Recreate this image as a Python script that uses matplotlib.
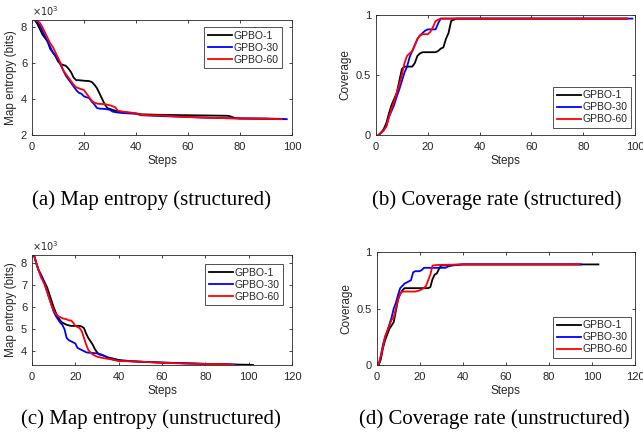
import matplotlib
matplotlib.use("Agg")
import matplotlib.pyplot as plt

# ---------------- data ----------------
series_names = ["GPBO-1", "GPBO-30", "GPBO-60"]
series_colors = ["#000000", "#0000ff", "#ff0000"]

# (a) Map entropy (structured), values in 10^3 bits
a_x1 = [1, 2, 3, 4, 5, 6, 7, 8, 9, 10, 11, 12, 13, 14, 15, 16, 17, 18, 20, 22, 23, 24, 25, 26, 27, 28, 29, 30, 31, 32, 34, 36, 40, 42, 50, 60, 70, 75, 76, 78, 80, 90, 97]
a_y1 = [8.4, 8.2, 7.9, 7.6, 7.4, 7.2, 6.8, 6.6, 6.4, 6.1, 5.95, 5.9, 5.85, 5.7, 5.5, 5.2, 5.05, 5.05, 5.02, 5.0, 4.95, 4.8, 4.6, 4.3, 4.0, 3.7, 3.5, 3.45, 3.4, 3.35, 3.3, 3.25, 3.2, 3.15, 3.12, 3.1, 3.08, 3.07, 3.05, 2.95, 2.92, 2.9, 2.88]
a_x30 = [1, 2, 3, 4, 5, 6, 7, 8, 9, 10, 11, 12, 13, 14, 15, 16, 17, 18, 19, 20, 21, 22, 23, 24, 25, 26, 28, 30, 31, 33, 35, 40, 42, 50, 60, 70, 80, 90, 95, 98]
a_y30 = [8.4, 8.3, 8.1, 7.8, 7.5, 7.2, 6.9, 6.6, 6.4, 6.2, 5.9, 5.6, 5.3, 5.1, 4.9, 4.7, 4.5, 4.35, 4.3, 4.15, 4.1, 4.05, 3.85, 3.7, 3.5, 3.47, 3.45, 3.4, 3.3, 3.25, 3.22, 3.18, 3.1, 3.05, 3.0, 2.95, 2.92, 2.92, 2.9, 2.88]
a_x60 = [1, 2, 3, 4, 5, 6, 7, 8, 9, 10, 11, 12, 13, 14, 15, 16, 17, 18, 19, 20, 21, 22, 23, 24, 25, 26, 28, 30, 31, 32, 33, 35, 38, 40, 42, 50, 60, 70, 80, 90, 96]
a_y60 = [8.4, 8.35, 8.25, 8.0, 7.7, 7.4, 7.1, 6.9, 6.6, 6.3, 6.0, 5.6, 5.4, 5.2, 5.0, 4.8, 4.65, 4.6, 4.55, 4.5, 4.3, 4.1, 3.9, 3.8, 3.75, 3.73, 3.72, 3.65, 3.6, 3.55, 3.35, 3.3, 3.25, 3.2, 3.12, 3.08, 3.0, 2.95, 2.92, 2.9, 2.88]

# (b) Coverage rate (structured)
b_x1 = [1, 2, 3, 4, 5, 6, 7, 8, 9, 10, 11, 14, 15, 16, 17, 18, 20, 23, 24, 25, 26, 27, 28, 29, 30, 31, 97]
b_y1 = [0, 0.02, 0.05, 0.1, 0.18, 0.25, 0.3, 0.35, 0.45, 0.55, 0.57, 0.57, 0.6, 0.66, 0.68, 0.69, 0.69, 0.69, 0.7, 0.72, 0.73, 0.8, 0.85, 0.95, 0.96, 0.97, 0.97]
b_x30 = [1, 2, 3, 4, 5, 6, 7, 8, 9, 10, 11, 12, 13, 14, 15, 16, 17, 18, 19, 20, 23, 24, 25, 99]
b_y30 = [0, 0.02, 0.04, 0.08, 0.15, 0.2, 0.25, 0.32, 0.38, 0.45, 0.52, 0.57, 0.65, 0.7, 0.75, 0.8, 0.83, 0.85, 0.87, 0.88, 0.88, 0.93, 0.97, 0.97]
b_x60 = [1, 2, 3, 4, 5, 6, 7, 8, 9, 10, 11, 12, 13, 14, 15, 16, 17, 18, 20, 21, 22, 23, 24, 25, 97]
b_y60 = [0, 0.02, 0.04, 0.07, 0.15, 0.22, 0.28, 0.35, 0.42, 0.5, 0.6, 0.66, 0.68, 0.7, 0.75, 0.8, 0.83, 0.84, 0.84, 0.86, 0.9, 0.95, 0.96, 0.97, 0.97]

# (c) Map entropy (unstructured), values in 10^3 bits
c_x1 = [1, 2, 3, 4, 5, 6, 7, 8, 9, 10, 11, 12, 13, 14, 15, 16, 18, 20, 22, 23, 24, 25, 26, 27, 28, 29, 30, 31, 33, 35, 38, 40, 45, 50, 60, 70, 80, 90, 100, 102]
c_y1 = [8.35, 8.0, 7.7, 7.5, 7.3, 7.1, 6.9, 6.6, 6.3, 6.0, 5.75, 5.55, 5.4, 5.3, 5.25, 5.2, 5.15, 5.15, 5.15, 5.12, 5.05, 4.8, 4.6, 4.45, 4.3, 4.1, 3.95, 3.85, 3.8, 3.72, 3.65, 3.6, 3.55, 3.52, 3.48, 3.45, 3.42, 3.4, 3.38, 3.37]
c_x30 = [1, 2, 3, 4, 5, 6, 7, 8, 9, 10, 11, 12, 13, 14, 15, 16, 17, 18, 19, 20, 21, 22, 23, 24, 25, 26, 28, 30, 32, 33, 35, 38, 40, 45, 50, 60, 70, 80, 90, 94]
c_y30 = [8.35, 8.0, 7.7, 7.5, 7.3, 7.0, 6.7, 6.4, 6.1, 5.8, 5.6, 5.45, 5.3, 5.2, 5.0, 4.6, 4.5, 4.45, 4.4, 4.35, 4.15, 4.1, 4.05, 4.0, 3.95, 3.93, 3.92, 3.9, 3.85, 3.8, 3.7, 3.6, 3.57, 3.54, 3.52, 3.48, 3.45, 3.42, 3.4, 3.38]
c_x60 = [1, 2, 3, 4, 5, 6, 7, 8, 9, 10, 11, 12, 13, 14, 16, 17, 18, 19, 20, 21, 22, 23, 24, 25, 26, 27, 28, 30, 32, 35, 38, 40, 45, 50, 60, 70, 80, 90, 93]
c_y60 = [8.35, 8.0, 7.7, 7.4, 7.2, 7.0, 6.7, 6.4, 6.1, 5.85, 5.7, 5.6, 5.55, 5.5, 5.45, 5.4, 5.4, 5.3, 5.15, 5.1, 5.05, 4.9, 4.6, 4.3, 4.05, 3.95, 3.85, 3.75, 3.7, 3.65, 3.6, 3.55, 3.54, 3.52, 3.47, 3.44, 3.42, 3.4, 3.38]

# (d) Coverage rate (unstructured)
d_x1 = [1, 2, 3, 4, 5, 6, 7, 8, 9, 10, 11, 12, 13, 24, 25, 26, 27, 28, 29, 30, 35, 40, 103]
d_y1 = [0, 0.05, 0.15, 0.22, 0.27, 0.32, 0.35, 0.38, 0.48, 0.58, 0.63, 0.66, 0.68, 0.68, 0.69, 0.76, 0.8, 0.81, 0.85, 0.88, 0.885, 0.89, 0.89]
d_x30 = [1, 2, 3, 4, 5, 6, 7, 8, 9, 10, 11, 12, 13, 14, 15, 16, 17, 18, 20, 21, 22, 32, 33, 35, 40, 95]
d_y30 = [0, 0.08, 0.18, 0.25, 0.3, 0.36, 0.42, 0.5, 0.55, 0.62, 0.68, 0.7, 0.72, 0.73, 0.74, 0.75, 0.82, 0.83, 0.83, 0.84, 0.86, 0.86, 0.87, 0.88, 0.89, 0.89]
d_x60 = [1, 2, 3, 4, 5, 6, 7, 8, 9, 10, 11, 12, 18, 20, 22, 23, 24, 25, 26, 28, 40, 94]
d_y60 = [0, 0.08, 0.16, 0.25, 0.3, 0.35, 0.4, 0.42, 0.5, 0.58, 0.63, 0.65, 0.65, 0.66, 0.68, 0.7, 0.75, 0.8, 0.88, 0.885, 0.89, 0.89]

captions = ["(a) Map entropy (structured)", "(b) Coverage rate (structured)",
            "(c) Map entropy (unstructured)", "(d) Coverage rate (unstructured)"]

# ---------------- style ----------------
SANS = ["Liberation Sans", "DejaVu Sans"]
SERIF = ["Liberation Serif", "DejaVu Serif"]
GREY = "#262626"
plt.rcParams.update({
    "font.family": SANS,
    "font.size": 8,
    "axes.edgecolor": GREY,
    "axes.linewidth": 0.6,
    "xtick.color": GREY,
    "ytick.color": GREY,
    "xtick.labelcolor": GREY,
    "ytick.labelcolor": GREY,
    "xtick.labelsize": 8,
    "ytick.labelsize": 8,
    "xtick.direction": "in",
    "ytick.direction": "in",
    "xtick.top": True,
    "ytick.right": True,
    "xtick.major.size": 2.5,
    "ytick.major.size": 2.5,
    "xtick.major.width": 0.6,
    "ytick.major.width": 0.6,
    "xtick.major.pad": 5.0,
    "ytick.major.pad": 3.5,
})

W, H = 643, 444
fig = plt.figure(figsize=(W / 100, H / 100), dpi=100)


def rect(l, t, r, b):
    return [l / W, 1 - b / H, (r - l) / W, (b - t) / H]


axA = fig.add_axes(rect(32, 20, 292, 135))
axB = fig.add_axes(rect(376, 15, 635, 135))
axC = fig.add_axes(rect(32, 255, 292, 365))
axD = fig.add_axes(rect(376.5, 252, 635, 365))

# legend anchor (pixel x, pixel y) and loc
panels = [
    (axA, [(a_x1, a_y1), (a_x30, a_y30), (a_x60, a_y60)], (0, 100), (2, 8.4), [2, 4, 6, 8], None, "Map entropy (bits)", "upper right", (282, 27), True),
    (axB, [(b_x1, b_y1), (b_x30, b_y30), (b_x60, b_y60)], (0, 100), (0, 1), [0, 0.5, 1], ["0", "0.5", "1"], "Coverage", "lower right", (631, 128), False),
    (axC, [(c_x1, c_y1), (c_x30, c_y30), (c_x60, c_y60)], (0, 120), (3.37, 8.38), [4, 5, 6, 7, 8], None, "Map entropy (bits)", "upper right", (283, 264), True),
    (axD, [(d_x1, d_y1), (d_x30, d_y30), (d_x60, d_y60)], (0, 120), (0, 1), [0, 0.5, 1], ["0", "0.5", "1"], "Coverage", "lower right", (631, 358), False),
]

for ax, data, xl, yl, yt, ytl, ylab, loc, anchor, offset in panels:
    for (xs, ys), name, col in zip(data, series_names, series_colors):
        ax.plot(xs, ys, color=col, lw=1.3, label=name)
    ax.set_xlim(*xl)
    ax.set_ylim(*yl)
    ax.set_yticks(yt)
    if ytl is not None:
        ax.set_yticklabels(ytl)
    ax.set_xlabel("Steps", color=GREY, fontsize=8.5, labelpad=2)
    ax.set_ylabel(ylab, color=GREY, fontsize=8.5, labelpad=3)
    leg = ax.legend(loc=loc, bbox_to_anchor=(anchor[0] / W, 1 - anchor[1] / H),
                    bbox_transform=fig.transFigure, fontsize=7.5, frameon=True,
                    fancybox=False, handlelength=2.3, handletextpad=0.15,
                    borderpad=0.35, labelspacing=0.2, borderaxespad=0.0)
    leg.get_frame().set_edgecolor("#000000")
    leg.get_frame().set_linewidth(0.6)
    for t in leg.get_texts():
        t.set_color(GREY)
    if offset:
        ax.text(0.0, 1.02, r"$\times 10^3$", transform=ax.transAxes,
                ha="left", va="bottom", fontsize=7, color=GREY)

cap_pos = [(151, 200), (497, 200), (151, 419), (494, 419)]
for (cx, cy), cap in zip(cap_pos, captions):
    fig.text(cx / W, 1 - cy / H, cap, ha="center", va="center",
             fontsize=15, family=SERIF, color="#000000")

fig.savefig("out.png", dpi=100)
